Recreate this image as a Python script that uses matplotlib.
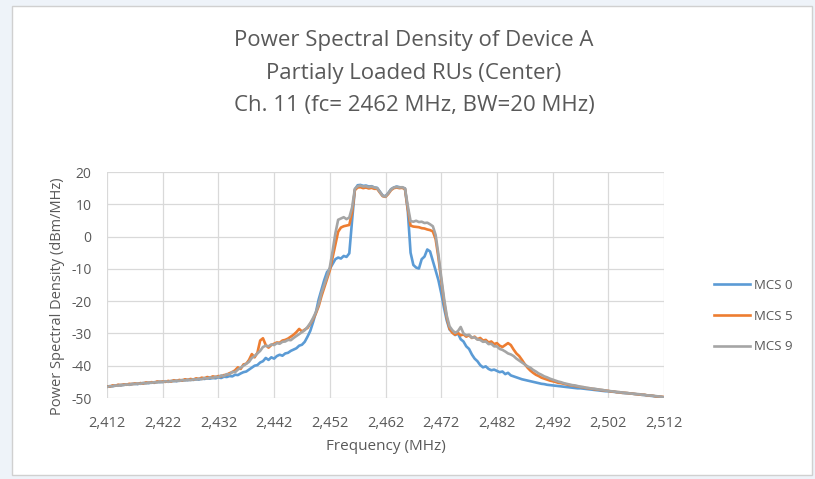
import matplotlib
matplotlib.use("Agg")
import matplotlib.pyplot as plt
import numpy as np
from matplotlib.patches import Rectangle
from matplotlib.ticker import FuncFormatter, MultipleLocator

plt.rcParams['font.family'] = ['Open Sans', 'DejaVu Sans']
plt.rcParams['axes.unicode_minus'] = False

# frequency grid, 0.5 MHz steps from 2412 to 2512 MHz
freq = np.arange(2412, 2512.5, 0.5)
xticks = [2412, 2422, 2432, 2442, 2452, 2462, 2472, 2482, 2492, 2502, 2512]

# PSD values (dBm/MHz), 10 values per 5 MHz row
mcs0 = [
    -46.5, -46.4, -46.3, -46.2, -46.0, -46.1, -45.9, -45.8, -45.9, -45.7,
    -45.6, -45.7, -45.4, -45.5, -45.3, -45.4, -45.2, -45.3, -45.0, -45.1,
    -45.0, -44.9, -44.9, -44.8, -44.7, -44.8, -44.6, -44.6, -44.4, -44.5,
    -44.3, -44.4, -44.2, -44.3, -44.0, -44.1, -43.9, -44.0, -43.8, -43.9,
    -43.6, -43.8, -43.4, -43.5, -43.2, -43.3, -42.8, -42.9, -42.4, -42.0,
    -41.8, -41.2, -40.6, -40.0, -39.8, -39.0, -38.6, -37.6, -38.2, -37.4,
    -37.8, -37.0, -36.6, -36.9, -36.2, -36.0, -35.4, -35.0, -34.6, -33.8,
    -33.5, -32.6, -31.0, -29.2, -26.5, -23.5, -19.5, -16.5, -13.5, -11.0,
    -10.0, -8.5, -7.0, -6.5, -6.8, -6.0, -6.3, -5.2, 5.0, 14.6,
    15.9, 16.0, 15.7, 15.8, 15.5, 15.6, 15.2, 15.1, 13.9, 12.7,
    12.5, 13.5, 14.7, 15.2, 15.5, 15.3, 15.2, 14.9, 8.0, -5.0,
    -8.8, -9.6, -9.9, -7.0, -6.2, -4.0, -4.6, -7.5, -10.5, -13.5,
    -17.5, -22.0, -26.0, -28.8, -29.6, -30.5, -30.0, -31.8, -32.5, -34.0,
    -34.8, -36.5, -37.8, -38.6, -39.8, -40.5, -40.2, -41.0, -41.4, -41.2,
    -41.6, -42.0, -41.8, -42.6, -42.2, -43.0, -43.3, -43.6, -43.9, -44.2,
    -44.4, -44.6, -44.8, -45.0, -45.2, -45.4, -45.6, -45.7, -45.9, -46.0,
    -46.1, -46.2, -46.3, -46.4, -46.5, -46.6, -46.7, -46.8, -46.9, -47.0,
    -47.0, -47.1, -47.2, -47.3, -47.4, -47.5, -47.6, -47.7, -47.8, -47.9,
    -47.9, -48.0, -48.1, -48.2, -48.3, -48.4, -48.5, -48.5, -48.6, -48.7,
    -48.8, -48.9, -49.0, -49.1, -49.2, -49.3, -49.4, -49.5, -49.6, -49.7,
    -49.8,
]

mcs5 = [
    -46.4, -46.5, -46.1, -46.2, -45.9, -46.0, -45.8, -45.9, -45.6, -45.7,
    -45.5, -45.6, -45.4, -45.5, -45.2, -45.3, -45.1, -45.2, -44.9, -45.0,
    -44.9, -45.0, -44.7, -44.9, -44.5, -44.7, -44.4, -44.6, -44.2, -44.4,
    -44.1, -44.3, -43.9, -44.1, -43.7, -43.9, -43.5, -43.7, -43.3, -43.5,
    -43.2, -43.3, -42.9, -42.8, -42.3, -42.0, -41.4, -40.5, -41.0, -39.6,
    -39.4, -38.2, -36.4, -37.4, -36.0, -32.2, -31.5, -33.6, -34.4, -33.6,
    -33.2, -32.8, -32.9, -32.2, -32.0, -31.6, -31.0, -30.4, -29.6, -28.6,
    -29.4, -28.8, -28.3, -27.0, -25.6, -23.8, -21.6, -18.5, -15.8, -13.2,
    -10.5, -6.5, -2.5, 1.5, 2.8, 3.2, 3.4, 3.6, 7.5, 14.4,
    15.2, 15.3, 15.0, 15.2, 14.9, 15.1, 14.8, 14.8, 13.6, 12.5,
    12.3, 13.2, 14.4, 15.0, 15.2, 15.0, 15.1, 14.7, 8.5, 3.4,
    3.1, 3.0, 2.9, 2.6, 2.5, 2.2, 2.0, 1.6, -0.8, -6.5,
    -13.5, -20.0, -25.2, -28.5, -29.8, -30.4, -29.8, -30.6, -30.3, -31.0,
    -30.6, -31.4, -31.0, -31.8, -31.4, -32.2, -32.0, -32.8, -32.5, -33.3,
    -33.0, -33.8, -34.2, -33.6, -33.0, -33.6, -35.0, -36.2, -37.0, -38.2,
    -39.5, -40.6, -41.5, -42.2, -42.8, -43.2, -43.7, -44.0, -44.3, -44.6,
    -44.8, -45.0, -45.3, -45.4, -45.6, -45.8, -46.0, -46.1, -46.3, -46.4,
    -46.6, -46.7, -46.9, -47.0, -47.1, -47.3, -47.3, -47.5, -47.6, -47.7,
    -47.8, -48.0, -48.0, -48.2, -48.2, -48.4, -48.4, -48.5, -48.6, -48.7,
    -48.8, -48.9, -49.0, -49.0, -49.2, -49.2, -49.3, -49.5, -49.5, -49.6,
    -49.7,
]

mcs9 = [
    -46.6, -46.3, -46.4, -46.1, -46.2, -45.9, -46.0, -45.8, -45.9, -45.6,
    -45.7, -45.5, -45.6, -45.3, -45.5, -45.2, -45.3, -45.1, -45.2, -44.9,
    -45.1, -44.8, -45.0, -44.7, -44.8, -44.6, -44.7, -44.4, -44.6, -44.3,
    -44.5, -44.2, -44.3, -44.0, -44.2, -43.8, -44.0, -43.6, -43.8, -43.4,
    -43.6, -43.0, -43.2, -42.6, -42.7, -41.9, -42.0, -41.2, -40.6, -40.0,
    -39.4, -38.8, -37.6, -37.0, -36.2, -35.4, -34.2, -33.8, -34.0, -33.4,
    -33.6, -33.0, -33.2, -32.6, -32.5, -32.0, -32.1, -31.4, -30.8, -30.2,
    -29.6, -29.0, -28.0, -26.8, -25.2, -23.4, -21.0, -17.5, -15.0, -12.4,
    -9.5, -4.5, 1.0, 5.2, 5.6, 6.0, 5.4, 5.9, 9.0, 14.8,
    15.6, 15.8, 15.5, 15.6, 15.3, 15.5, 15.2, 15.0, 13.8, 12.6,
    12.4, 13.4, 14.6, 15.2, 15.4, 15.2, 15.3, 14.9, 9.5, 4.8,
    4.6, 4.9, 4.5, 4.6, 4.2, 4.3, 3.8, 3.2, 0.5, -5.5,
    -12.5, -19.0, -24.5, -27.8, -29.0, -29.8, -29.3, -28.0, -30.0, -30.6,
    -30.4, -31.3, -31.2, -31.9, -32.0, -32.6, -32.5, -33.3, -33.2, -34.0,
    -34.0, -34.8, -35.1, -35.6, -36.2, -36.5, -37.0, -37.8, -38.4, -39.0,
    -39.6, -40.2, -40.6, -41.3, -41.8, -42.4, -42.8, -43.3, -43.6, -44.0,
    -44.3, -44.6, -44.9, -45.1, -45.4, -45.6, -45.8, -46.0, -46.1, -46.3,
    -46.5, -46.6, -46.8, -46.9, -47.1, -47.1, -47.3, -47.4, -47.5, -47.7,
    -47.8, -47.9, -48.0, -48.1, -48.2, -48.3, -48.4, -48.5, -48.6, -48.7,
    -48.8, -48.8, -49.0, -49.0, -49.2, -49.2, -49.3, -49.4, -49.5, -49.6,
    -49.8,
]

labels = ["MCS 0", "MCS 5", "MCS 9"]
colors = ["#5B9BD5", "#ED7D31", "#A5A5A5"]

txt = "#595959"

fig = plt.figure(figsize=(8.15, 4.79), dpi=100, facecolor="#eef3f9")
# white chart frame behind everything
fig.patches.append(Rectangle((12 / 815, 4 / 479), 800 / 815, 469 / 479,
                             transform=fig.transFigure, facecolor="white",
                             edgecolor="#d0d0d0", linewidth=1.0, zorder=-5))

ax = fig.add_axes([107 / 815, 1 - 398 / 479, 557 / 815, 226 / 479])
ax.set_facecolor("white")

for y, lab, c in zip([mcs0, mcs5, mcs9], labels, colors):
    ax.plot(freq, y, color=c, linewidth=1.9, label=lab)

ax.set_xlim(2412, 2512)
ax.set_ylim(-50, 20)
ax.set_xticks(xticks)
ax.yaxis.set_major_locator(MultipleLocator(10))
ax.xaxis.set_major_formatter(FuncFormatter(lambda v, p: f"{int(v):,}"))
ax.grid(True, color="#d9d9d9", linewidth=0.9)
ax.set_axisbelow(True)
for s in ax.spines.values():
    s.set_visible(False)
ax.tick_params(length=0, labelsize=10.5, colors=txt)
ax.tick_params(axis="y", pad=11, labelsize=10)
ax.tick_params(axis="x", pad=13)

ax.set_xlabel("Frequency (MHz)", fontsize=11, color=txt, labelpad=6)
ax.set_ylabel("Power Spectral Density (dBm/MHz)", fontsize=10.5, color=txt)
ax.yaxis.set_label_coords(-0.076, 0.45)

fig.text(0.508, 1 - 73 / 479,
         "Power Spectral Density of Device A\nPartialy Loaded RUs (Center)\nCh. 11 (fc= 2462 MHz, BW=20 MHz)",
         ha="center", va="center", fontsize=16, color=txt, linespacing=1.7)

fig.legend(loc="center left", bbox_to_anchor=(0.862, 1 - 316 / 479),
           frameon=False, fontsize=9.5, labelcolor=txt, handlelength=2.7,
           labelspacing=1.35, handletextpad=0.3)

fig.savefig("out.png", dpi=100, facecolor=fig.get_facecolor())
